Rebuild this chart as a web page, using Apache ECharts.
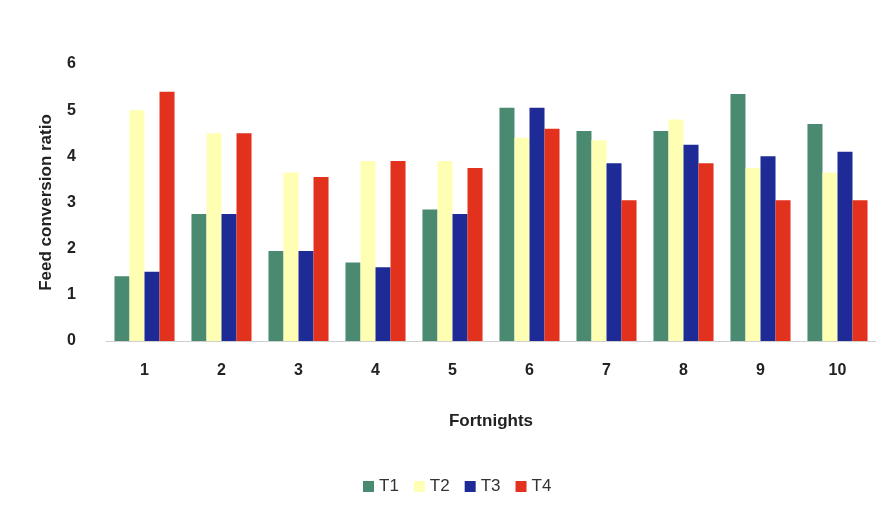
<!DOCTYPE html>
<html>
<head>
<meta charset="utf-8">
<script src="https://cdn.jsdelivr.net/npm/echarts@6/dist/echarts.min.js"></script>
<style>
  html, body { margin: 0; padding: 0; background: #fff; }
  #chart { width: 876px; height: 513px; }
</style>
</head>
<body>
<div id="chart"></div>
<script>
// Fortnight categories and feed conversion ratio per treatment
const fortnights = ['1', '2', '3', '4', '5', '6', '7', '8', '9', '10'];
const t1 = [1.4, 2.75, 1.95, 1.7, 2.85, 5.05, 4.55, 4.55, 5.35, 4.7];
const t2 = [5.0, 4.5, 3.65, 3.9, 3.9, 4.4, 4.35, 4.8, 3.75, 3.65];
const t3 = [1.5, 2.75, 1.95, 1.6, 2.75, 5.05, 3.85, 4.25, 4.0, 4.1];
const t4 = [5.4, 4.5, 3.55, 3.9, 3.75, 4.6, 3.05, 3.85, 3.05, 3.05];
const yTicks = [0, 1, 2, 3, 4, 5, 6];

const font = '"Liberation Sans", Arial, sans-serif';
const colors = ['#4a8a70', '#ffffb4', '#1e2a96', '#e2311c'];

const chart = echarts.init(document.getElementById('chart'), null, { renderer: 'canvas' });

function bar(name, data, color) {
  return {
    name: name,
    type: 'bar',
    data: data,
    barGap: '0%',
    barCategoryGap: '22%',
    itemStyle: { color: color },
    emphasis: { disabled: true }
  };
}

chart.setOption({
  animation: false,
  textStyle: { fontFamily: font },
  grid: { left: 106, right: 0, top: 64, bottom: 172 },
  xAxis: {
    type: 'category',
    data: fortnights,
    name: 'Fortnights',
    nameLocation: 'middle',
    nameGap: 72,
    nameTextStyle: { fontFamily: font, fontSize: 17, fontWeight: 'bold', color: '#222' },
    axisLine: { show: true, lineStyle: { color: '#cfcfcf', width: 1 } },
    axisTick: { show: false },
    axisLabel: { fontFamily: font, fontSize: 16, fontWeight: 'bold', color: '#222', margin: 22 }
  },
  yAxis: {
    type: 'value',
    min: yTicks[0],
    max: yTicks[yTicks.length - 1],
    interval: 1,
    name: 'Feed conversion ratio',
    nameLocation: 'middle',
    nameGap: 51,
    nameTextStyle: { fontFamily: font, fontSize: 17, fontWeight: 'bold', color: '#222' },
    axisLine: { show: false },
    axisTick: { show: false },
    splitLine: { show: false },
    axisLabel: { fontFamily: font, fontSize: 16, fontWeight: 'bold', color: '#222', margin: 30 }
  },
  legend: {
    bottom: 13,
    left: 358,
    itemWidth: 11,
    itemHeight: 11,
    itemGap: 15,
    icon: 'rect',
    textStyle: { fontFamily: font, fontSize: 17, color: '#333' },
    data: ['T1', 'T2', 'T3', 'T4']
  },
  series: [
    bar('T1', t1, colors[0]),
    bar('T2', t2, colors[1]),
    bar('T3', t3, colors[2]),
    bar('T4', t4, colors[3])
  ]
});
</script>
</body>
</html>
